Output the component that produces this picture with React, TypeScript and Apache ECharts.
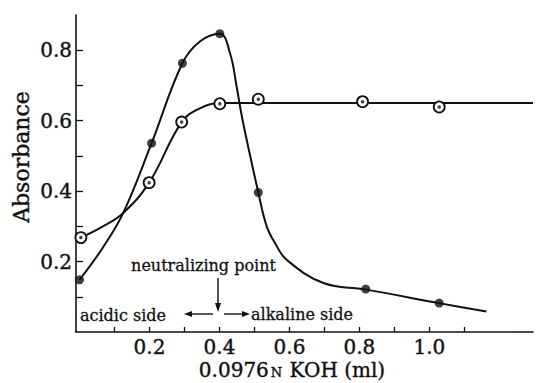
import React, { useEffect, useRef } from "react";
import * as echarts from "echarts";

// Measured points (x: ml KOH, y: absorbance)
const filledPoints: [number, number][] = [
  [0.0, 0.148],
  [0.206, 0.536],
  [0.294, 0.763],
  [0.401, 0.847],
  [0.511, 0.396],
  [0.818, 0.122],
  [1.028, 0.082],
];
const openPoints: [number, number][] = [
  [0.004, 0.268],
  [0.199, 0.424],
  [0.292, 0.596],
  [0.401, 0.648],
  [0.511, 0.661],
  [0.809, 0.654],
  [1.028, 0.639],
];
// Hand-drawn fitted curves
const filledCurve: [number, number][] = [
  [0.0, 0.148],
  [0.067, 0.24],
  [0.125, 0.338],
  [0.206, 0.536],
  [0.294, 0.763],
  [0.344, 0.825],
  [0.401, 0.847],
  [0.43, 0.792],
  [0.449, 0.697],
  [0.466, 0.602],
  [0.511, 0.396],
  [0.535, 0.3],
  [0.559, 0.252],
  [0.592, 0.205],
  [0.697, 0.139],
  [0.816, 0.121],
  [1.028, 0.082],
  [1.163, 0.058],
];
const openCurve: [number, number][] = [
  [0.004, 0.268],
  [0.067, 0.3],
  [0.125, 0.338],
  [0.199, 0.424],
  [0.292, 0.596],
  [0.344, 0.635],
  [0.401, 0.65],
  [0.55, 0.65],
  [1.296, 0.65],
];
const xTicks = [0.1, 0.2, 0.3, 0.4, 0.5, 0.6, 0.7, 0.8, 0.9, 1.0, 1.1];
const xLabels = [0.2, 0.4, 0.6, 0.8, 1.0];
const yTicks = [0.1, 0.2, 0.3, 0.4, 0.5, 0.6, 0.7, 0.8];
const yLabels = [0.2, 0.4, 0.6, 0.8];

const SERIF = "'DejaVu Serif', 'Liberation Serif', serif";
const INK = "#111";

export default function App() {
  const ref = useRef<HTMLDivElement>(null);
  useEffect(() => {
    if (!ref.current) return;
    const chart = echarts.init(ref.current, null, { renderer: "svg" });
    const lineStyle = { color: INK, width: 2 };
    const thick = { textBorderColor: INK, textBorderWidth: 0.4 };
    chart.setOption({
      animation: false,
      backgroundColor: "#fff",
      grid: { left: 76, right: 3, top: 15, bottom: 51, outerBoundsMode: "none" },
      xAxis: {
        type: "value",
        min: -0.01,
        max: 1.296,
        splitLine: { show: false },
        axisLine: { show: true, onZero: false, lineStyle: { color: INK, width: 1.6 } },
        axisTick: { show: true, inside: true, length: 5, customValues: xTicks, lineStyle: { color: INK, width: 1.3 } },
        axisLabel: {
          customValues: xLabels,
          formatter: (v: number) => v.toFixed(1),
          fontFamily: SERIF,
          fontSize: 20,
          color: INK,
          margin: 5,
          ...thick,
        },
      },
      yAxis: {
        type: "value",
        min: 0,
        max: 0.9,
        splitLine: { show: false },
        axisLine: { show: true, onZero: false, lineStyle: { color: INK, width: 1.6 } },
        axisTick: { show: true, inside: true, length: 7, customValues: yTicks, lineStyle: { color: INK, width: 1.3 } },
        axisLabel: {
          customValues: yLabels,
          formatter: (v: number) => v.toFixed(1),
          fontFamily: SERIF,
          fontSize: 20,
          color: INK,
          margin: 4,
          ...thick,
        },
      },
      series: [
        { type: "line", data: filledCurve, smooth: 0.4, showSymbol: false, lineStyle, z: 2 },
        { type: "line", data: openCurve, smooth: 0.4, showSymbol: false, lineStyle, z: 2 },
        {
          type: "scatter",
          data: filledPoints,
          symbolSize: 9,
          itemStyle: { color: INK },
          z: 3,
        },
        {
          type: "scatter",
          data: openPoints,
          symbolSize: 11,
          itemStyle: { color: "#fff", borderColor: INK, borderWidth: 1.8, opacity: 1 },
          z: 3,
        },
        {
          type: "scatter",
          data: openPoints,
          symbolSize: 3.5,
          itemStyle: { color: INK },
          z: 4,
        },
      ],
      graphic: [
        {
          type: "text",
          x: 21,
          y: 157,
          rotation: Math.PI / 2,
          style: {
            text: "Absorbance",
            fontFamily: SERIF,
            fontSize: 22,
            fill: INK,
            stroke: INK,
            lineWidth: 0.4,
            align: "center",
            verticalAlign: "middle",
          },
        },
        {
          type: "text",
          x: 292,
          y: 370,
          style: {
            text: "0.0976{n|N} KOH (ml)",
            fontFamily: SERIF,
            fontSize: 20,
            lineHeight: 22,
            fill: INK,
            stroke: INK,
            lineWidth: 0.4,
            align: "center",
            verticalAlign: "middle",
            rich: {
              n: { fontFamily: SERIF, fontSize: 13, lineHeight: 22, fill: INK, padding: [4, 1, 0, 2] },
            },
          },
        },
        {
          type: "text",
          x: 203.5,
          y: 265,
          style: { text: "neutralizing point", fontFamily: SERIF, fontSize: 16, fill: INK, stroke: INK, lineWidth: 0.3, align: "center", verticalAlign: "middle" },
        },
        {
          type: "text",
          x: 80,
          y: 315,
          style: { text: "acidic side", fontFamily: SERIF, fontSize: 16, fill: INK, stroke: INK, lineWidth: 0.3, align: "left", verticalAlign: "middle" },
        },
        {
          type: "text",
          x: 251,
          y: 314,
          style: { text: "alkaline side", fontFamily: SERIF, fontSize: 16, fill: INK, stroke: INK, lineWidth: 0.3, align: "left", verticalAlign: "middle" },
        },
        { type: "line", shape: { x1: 218, y1: 278, x2: 218, y2: 306 }, style: { stroke: INK, lineWidth: 1.4 } },
        { type: "polygon", shape: { points: [[218, 312], [215, 303], [221, 303]] }, style: { fill: INK } },
        { type: "line", shape: { x1: 190, y1: 314, x2: 213, y2: 314 }, style: { stroke: INK, lineWidth: 1.4 } },
        { type: "polygon", shape: { points: [[184, 314], [192, 311], [192, 317]] }, style: { fill: INK } },
        { type: "line", shape: { x1: 224, y1: 314, x2: 244, y2: 314 }, style: { stroke: INK, lineWidth: 1.4 } },
        { type: "polygon", shape: { points: [[250, 314], [242, 311], [242, 317]] }, style: { fill: INK } },
      ],
    });
    return () => chart.dispose();
  }, []);
  return (
    <div
      ref={ref}
      style={{ position: "absolute", left: 0, top: 0, width: 536, height: 383, background: "#fff" }}
    />
  );
}
